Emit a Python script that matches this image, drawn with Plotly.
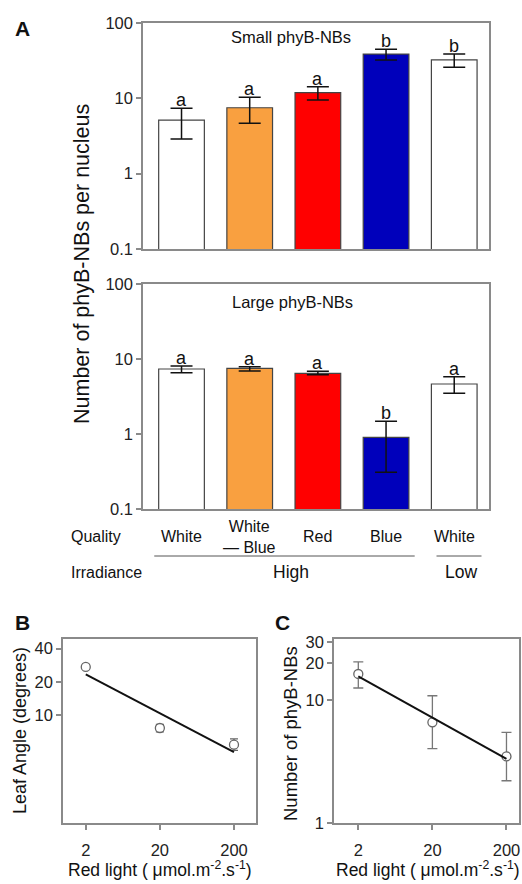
import numpy as np
import plotly.graph_objects as go

W, H = 522, 884
FONT = "Liberation Sans, Arial, sans-serif"

# ---------------- data ----------------
conditions = ["White High", "White-Blue High", "Red High", "Blue High", "White Low"]
quality_labels = ["White", "White<br>— Blue", "Red", "Blue", "White"]
bar_colors = ["#ffffff", "#f9a040", "#ff0000", "#0000bb", "#ffffff"]

small_vals = [5.15, 7.5, 11.9, 38.7, 32.3]
small_err_hi = [7.36, 10.3, 14.3, 44.7, 38.7]
small_err_lo = [2.88, 4.66, 9.5, 32.3, 25.8]
small_letters = ["a", "a", "a", "b", "b"]

large_vals = [7.36, 7.52, 6.44, 0.90, 4.64]
large_err_hi = [8.07, 7.9, 6.85, 1.48, 5.8]
large_err_lo = [6.56, 6.92, 6.18, 0.31, 3.49]
large_letters = ["a", "a", "a", "b", "a"]

red_light = [2, 20, 200]
leaf_angle = [27.3, 7.6, 5.36]
leaf_angle_hi = [28.0, 8.2, 6.04]
leaf_angle_lo = [26.6, 7.0, 4.75]

nb_count = [16.4, 6.62, 3.49]
nb_count_hi = [20.6, 10.9, 5.48]
nb_count_lo = [12.6, 4.04, 2.21]


def px(x):
    return x / W


def py(y):
    return 1 - y / H


def loglog_fit(xs, ys):
    lx, ly = np.log10(xs), np.log10(ys)
    m, b = np.polyfit(lx, ly, 1)
    fx = np.array([min(xs), max(xs)], dtype=float)
    return fx, 10 ** (m * np.log10(fx) + b)


fig = go.Figure()

AXC = "#8a8a8a"

# ---------------- panel A bars ----------------
for vals, hi, lo, xa, ya in [
    (small_vals, small_err_hi, small_err_lo, "x", "y"),
    (large_vals, large_err_hi, large_err_lo, "x2", "y2"),
]:
    fig.add_trace(go.Bar(
        x=conditions, y=vals, xaxis=xa, yaxis=ya, width=0.67,
        marker=dict(color=bar_colors, line=dict(color="#444444", width=1.2)),
        error_y=dict(type="data", symmetric=False,
                     array=[h - v for h, v in zip(hi, vals)],
                     arrayminus=[v - l for v, l in zip(vals, lo)],
                     color="#111111", thickness=1.5, width=11),
        showlegend=False,
    ))

annotations = []
for hi, letters, xa, ya in [
    (small_err_hi, small_letters, "x", "y"),
    (large_err_hi, large_letters, "x2", "y2"),
]:
    for c, h, t in zip(conditions, hi, letters):
        annotations.append(dict(x=c, y=np.log10(h), xref=xa, yref=ya, text=t,
                                showarrow=False, yanchor="bottom", yshift=-4,
                                font=dict(size=18, color="#111", family=FONT)))

# ---------------- panel B ----------------
fig.add_trace(go.Scatter(
    x=red_light, y=leaf_angle, xaxis="x3", yaxis="y3", mode="markers",
    marker=dict(symbol="circle", size=9, color="white", line=dict(color="#666", width=1.3)),
    error_y=dict(type="data", symmetric=False,
                 array=[h - v for h, v in zip(leaf_angle_hi, leaf_angle)],
                 arrayminus=[v - l for v, l in zip(leaf_angle, leaf_angle_lo)],
                 color="#666", thickness=1.3, width=4),
    showlegend=False))
fx, fy = loglog_fit(red_light, leaf_angle)
fig.add_trace(go.Scatter(x=fx, y=fy, xaxis="x3", yaxis="y3", mode="lines",
                         line=dict(color="#111", width=2), showlegend=False))

# ---------------- panel C ----------------
fig.add_trace(go.Scatter(
    x=red_light, y=nb_count, xaxis="x4", yaxis="y4", mode="markers",
    marker=dict(symbol="circle", size=9, color="white", line=dict(color="#666", width=1.3)),
    error_y=dict(type="data", symmetric=False,
                 array=[h - v for h, v in zip(nb_count_hi, nb_count)],
                 arrayminus=[v - l for v, l in zip(nb_count, nb_count_lo)],
                 color="#777", thickness=1.3, width=5),
    showlegend=False))
fx, fy = loglog_fit(red_light, nb_count)
fig.add_trace(go.Scatter(x=fx, y=fy, xaxis="x4", yaxis="y4", mode="lines",
                         line=dict(color="#111", width=2), showlegend=False))

# ---------------- axes ----------------
box = dict(showline=True, mirror=True, linecolor=AXC, linewidth=1.5,
           showgrid=False, zeroline=False, automargin=False)
ya_ticks = dict(type="log", range=[-1, 2], tickvals=[0.1, 1, 10, 100],
                ticktext=["0.1", "1", "10", "100"], ticks="outside", ticklen=5,
                tickcolor=AXC, tickwidth=1.5, tickfont=dict(size=16.5, color="#222"))
xa_bars = dict(range=[-0.565, 4.51], showticklabels=False, ticks="")
tk = dict(ticks="outside", ticklen=5, tickcolor=AXC, tickwidth=1.5,
          tickfont=dict(size=16.5, color="#222"))

fig.update_layout(
    width=W, height=H, margin=dict(l=0, r=0, t=0, b=0, autoexpand=False),
    paper_bgcolor="white", plot_bgcolor="white",
    font=dict(family=FONT, color="#222"),
    xaxis=dict(domain=[px(143), px(489)], anchor="y", **xa_bars, **box),
    yaxis=dict(domain=[py(249), py(23)], anchor="x", **ya_ticks, **box),
    xaxis2=dict(domain=[px(143), px(489)], anchor="y2", **xa_bars, **box),
    yaxis2=dict(domain=[py(509), py(284)], anchor="x2", **ya_ticks, **box),
    xaxis3=dict(domain=[px(63), px(256)], anchor="y3", type="log", range=[-0.006, 2.598],
                tickvals=[2, 20, 200], ticktext=["2", "20", "200"], ticklabelstandoff=6,
                **tk, **box),
    yaxis3=dict(domain=[py(823), py(639)], anchor="x3", type="log", range=[0.017, 1.69],
                tickvals=[10, 20, 40], ticktext=["10", "20", "40"], **tk, **box),
    xaxis4=dict(domain=[px(334), px(519)], anchor="y4", type="log", range=[-0.027, 2.47],
                tickvals=[2, 20, 200], ticktext=["2", "20", "200"], ticklabelstandoff=6,
                **tk, **box),
    yaxis4=dict(domain=[py(823), py(639)], anchor="x4", type="log", range=[0, 1.5],
                tickvals=[1, 10, 20, 30], ticktext=["1", "10", "20", "30"], **tk, **box),
)


def ann(x, y, text, size=15, bold=False, angle=0, xanchor="center", yanchor="middle"):
    annotations.append(dict(
        x=px(x), y=py(y), xref="paper", yref="paper", showarrow=False,
        text=f"<b>{text}</b>" if bold else text, textangle=angle,
        xanchor=xanchor, yanchor=yanchor,
        font=dict(size=size, color="#111", family=FONT)))


ann(22, 29, "A", size=21, bold=True)
ann(22, 622, "B", size=21, bold=True)
ann(282, 622, "C", size=21, bold=True)

ann(291, 37, "Small phyB-NBs", size=16.5)
ann(292, 302, "Large phyB-NBs", size=16.5)
ann(82, 264, "Number of phyB-NBs per nucleus", size=21.5, angle=-90)

# Quality / irradiance rows
ann(69, 536, "Quality", size=16, xanchor="left")
ann(69, 572, "Irradiance", size=16, xanchor="left")
for c, q in zip(conditions, quality_labels):
    annotations.append(dict(x=c, y=py(536.5), xref="x2", yref="paper", text=q,
                            showarrow=False, yanchor="middle",
                            font=dict(size=16, color="#111", family=FONT)))
ann(291, 572, "High", size=17.5)
ann(461, 572, "Low", size=17.5)

ann(20, 731, "Leaf Angle (degrees)", size=18, angle=-90)
ann(290, 734, "Number of phyB-NBs", size=18.5, angle=-90)
ann(160, 869, "Red light ( μmol.m<sup>-2</sup>.s<sup>-1</sup>)", size=17.5)
ann(428, 869, "Red light ( μmol.m<sup>-2</sup>.s<sup>-1</sup>)", size=17.5)

fig.update_layout(annotations=annotations)

# bracket lines under quality labels (in category units of the bar axis)
fig.add_shape(type="line", xref="x2", yref="paper", x0=-0.4, x1=3.42,
              y0=py(556), y1=py(556), line=dict(color="#555", width=1))
fig.add_shape(type="line", xref="x2", yref="paper", x0=3.74, x1=4.4,
              y0=py(556), y1=py(556), line=dict(color="#555", width=1))

fig.write_html("out.html",
               config={"displayModeBar": False},
               post_script="document.body.style.margin='0px';"
                           "document.body.style.overflow='hidden';")
